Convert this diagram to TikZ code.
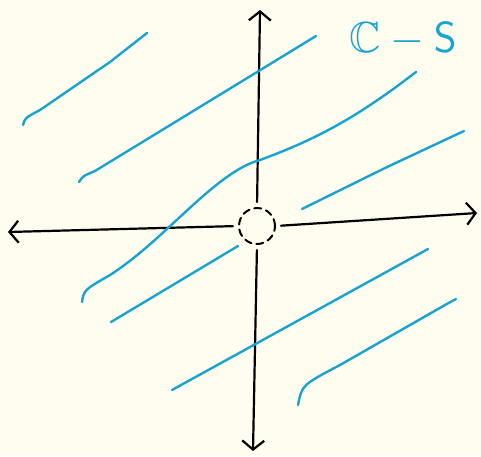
\documentclass[tikz,border=0pt]{standalone}
\usepackage{amsmath,amssymb}
\usepackage{tikz}
\usetikzlibrary{arrows.meta}
\definecolor{paper}{RGB}{255,253,240}
\definecolor{hatch}{RGB}{25,163,208}

\begin{document}
\begin{tikzpicture}[x=1pt,y=-1pt,line cap=round,
    axis/.style={line width=2.2pt,black,-{Straight Barb[length=9pt,width=22pt,line width=2.2pt]},shorten <=5pt},
    region/.style={line width=2.4pt,hatch}]
    \fill[paper] (0,0) rectangle (481,456);
    \useasboundingbox (0,0) rectangle (481,456);
    % the removed point
    \node (O) [circle,draw,dashed,dash pattern=on 7pt off 5pt,line width=2pt,
      minimum size=36pt,inner sep=0pt] at (257,226) {};
    \coordinate (L) at (8,232);
    \coordinate (R) at (477,213);
    \coordinate (T) at (260,10);
    \coordinate (B) at (253,451);
    \draw[axis] (O.west) -- (L);
    \draw[axis] (O.east) -- (R);
    \draw[axis] (O.north) -- (T);
    \draw[axis] (O.south) -- (B);
    % hatching of C - S
    \draw[region] (23,125) .. controls (25,118) .. (40,110) -- (110,62) -- (147,33);
    \draw[region] (79,182) .. controls (83,176) .. (95,171) -- (316,36);
    \draw[region] (82,302) .. controls (84,290) .. (110,275) .. controls (165,240) and (215,172) .. (260,160)
      .. controls (320,138) and (360,115) .. (416,72);
    \draw[region] (302,209) -- (385,168) -- (464,131);
    \draw[region] (111,322) -- (238,246);
    \draw[region] (172,390) -- (428,249);
    \draw[region] (298,405) .. controls (302,385) .. (340,365) -- (445,305) -- (456,299);
    \node (lbl) [hatch,font=\Huge,scale=1.75] at (403,39) {$\mathbb{C}-\mathsf{S}$};
\end{tikzpicture}
\end{document}
